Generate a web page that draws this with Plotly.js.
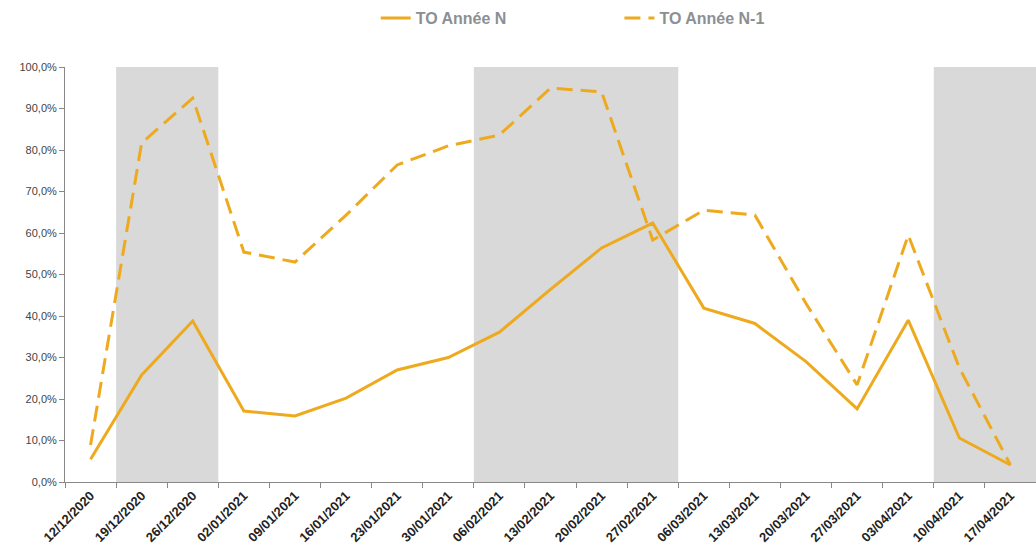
<!DOCTYPE html>
<html>
<head>
<meta charset="utf-8">
<script src="https://cdn.plot.ly/plotly-3.0.1.min.js"></script>
<style>html,body{margin:0;padding:0;background:#fff;}#chart{width:1036px;height:557px;}</style>
</head>
<body>
<div id="chart"></div>
<script>
const weeks = ["12/12/2020","19/12/2020","26/12/2020","02/01/2021","09/01/2021","16/01/2021","23/01/2021","30/01/2021","06/02/2021","13/02/2021","20/02/2021","27/02/2021","06/03/2021","13/03/2021","20/03/2021","27/03/2021","03/04/2021","10/04/2021","17/04/2021"];
const toAnneeN  = [5.5, 25.8, 38.8, 17.1, 15.9, 20.2, 27.0, 30.0, 36.1, 46.4, 56.4, 62.4, 41.9, 38.2, 29.0, 17.6, 39.0, 10.6, 4.1];
const toAnneeN1 = [8.9, 81.7, 92.5, 55.4, 53.0, 64.3, 76.4, 81.0, 83.6, 94.9, 94.0, 58.3, 65.5, 64.3, 43.0, 23.4, 59.5, 27.5, 4.1];
const shadedPeriods = [["19/12/2020","26/12/2020"],["06/02/2021","27/02/2021"],["10/04/2021","17/04/2021"]];
const yTicks = [0,10,20,30,40,50,60,70,80,90,100];
const yTickLabels = yTicks.map(v => v.toFixed(1).replace(".", ",") + "%");

const lineColor = "#EEAA1E";
const traces = [
  {x: weeks, y: toAnneeN, name: "TO Année N", type: "scatter", mode: "lines",
   line: {color: lineColor, width: 3}, legend: "legend"},
  {x: weeks, y: toAnneeN1, name: "TO Année N-1", type: "scatter", mode: "lines",
   line: {color: lineColor, width: 3, dash: "16px,8px"}, legend: "legend2"}
];

const shapes = shadedPeriods.map(p => ({
  type: "rect", xref: "x", yref: "paper", layer: "below",
  x0: weeks.indexOf(p[0]) - 0.5, x1: weeks.indexOf(p[1]) + 0.5,
  y0: 0, y1: 1, fillcolor: "#D9D9D9", line: {width: 0}
}));

const legendFont = {family: "Liberation Sans, Arial, sans-serif", size: 16, color: "#8C9094", weight: "bold"};
const layout = {
  width: 1036, height: 557,
  margin: {l: 65, r: 0, t: 67, b: 75},
  paper_bgcolor: "#fff", plot_bgcolor: "#fff",
  showlegend: true,
  legend: {x: 0.32, xanchor: "left", y: 1.118, yanchor: "middle", orientation: "h",
           font: legendFont, bgcolor: "rgba(0,0,0,0)", itemwidth: 30},
  legend2: {x: 0.571, xanchor: "left", y: 1.118, yanchor: "middle", orientation: "h",
           font: legendFont, bgcolor: "rgba(0,0,0,0)", itemwidth: 30},
  shapes: shapes,
  xaxis: {
    type: "category", categoryarray: weeks, range: [-0.5, weeks.length - 0.5],
    tickangle: -45, tickson: "boundaries", ticks: "outside", ticklen: 5, tickcolor: "#888",
    showline: true, linecolor: "#888", linewidth: 1, showgrid: false, zeroline: false,
    tickfont: {family: "Liberation Sans, Arial, sans-serif", size: 13, color: "#222", weight: "bold"}
  },
  yaxis: {
    range: [0, 100], tickvals: yTicks, ticktext: yTickLabels,
    ticks: "outside", ticklen: 5, tickcolor: "#888",
    showline: true, linecolor: "#888", linewidth: 1, showgrid: false, zeroline: false,
    tickfont: {family: "Liberation Sans, Arial, sans-serif", size: 11, color: "#444"}
  }
};
Plotly.newPlot("chart", traces, layout, {displayModeBar: false, staticPlot: true});
</script>
</body>
</html>
